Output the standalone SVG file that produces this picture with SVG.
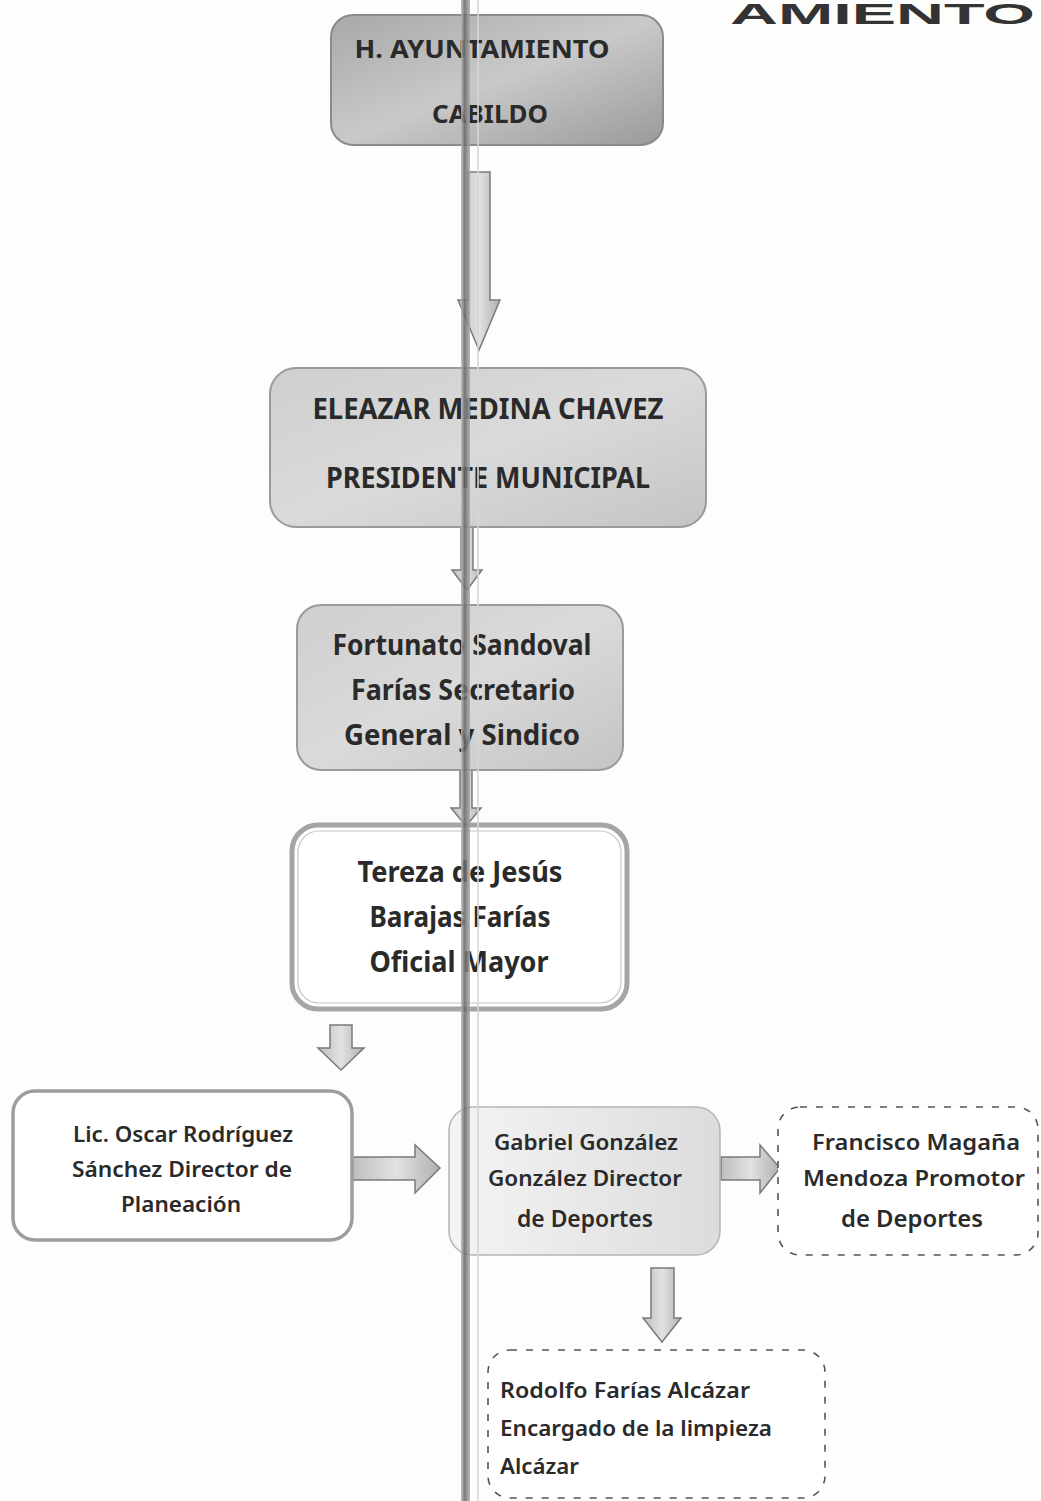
<svg xmlns="http://www.w3.org/2000/svg" width="1041" height="1501" viewBox="0 0 1041 1501">
<style>
.bold{font-family:"Noto Sans","Liberation Sans",sans-serif;font-weight:bold;fill:#2a2a2a;text-anchor:middle}
.reg{font-family:"Noto Sans","Liberation Sans",sans-serif;font-weight:600;fill:#2a2a2a;text-anchor:middle}
.regl{font-family:"Noto Sans","Liberation Sans",sans-serif;font-weight:600;fill:#2a2a2a}
.dash{fill:#fff;stroke:#555;stroke-width:1.6;stroke-dasharray:7 9}
.arrow{fill:url(#ag);stroke:#7a7a7a;stroke-width:1.5}
</style>
<defs>
<linearGradient id="g1" x1="0" y1="0" x2="1" y2="1">
<stop offset="0" stop-color="#a8a8a8"/><stop offset="0.5" stop-color="#c9c9c9"/><stop offset="1" stop-color="#9a9a9a"/>
</linearGradient>
<linearGradient id="g2" x1="0" y1="0" x2="1" y2="1">
<stop offset="0" stop-color="#cfcfcf"/><stop offset="0.5" stop-color="#dadada"/><stop offset="1" stop-color="#c4c4c4"/>
</linearGradient>
<linearGradient id="g3" x1="0" y1="0" x2="1" y2="0">
<stop offset="0" stop-color="#f4f4f4"/><stop offset="1" stop-color="#dcdcdc"/>
</linearGradient>
<linearGradient id="ag" x1="0" y1="0" x2="1" y2="0">
<stop offset="0" stop-color="#bdbdbd"/><stop offset="0.5" stop-color="#e2e2e2"/><stop offset="1" stop-color="#b0b0b0"/>
</linearGradient>
<linearGradient id="scan" x1="0" y1="0" x2="1" y2="0">
<stop offset="0" stop-color="#bbb"/><stop offset="0.4" stop-color="#666"/><stop offset="1" stop-color="#aaa"/>
</linearGradient>
</defs>
<rect width="1041" height="1501" fill="#fdfdfb"/>
<text x="730" y="24" font-family="Liberation Sans, sans-serif" font-weight="bold" font-size="30" fill="#333" textLength="305" lengthAdjust="spacingAndGlyphs">AMIENTO</text>

<g id="connectors">
<path class="arrow" d="M468,172 H490 V300 H500 L479,350 L458,300 H468 Z"/>
<path class="arrow" d="M461,527 H473 V570 H482 L467,590 L452,570 H461 Z"/>
<path class="arrow" d="M460,770 H472 V808 H481 L466,826 L451,808 H460 Z"/>
<path class="arrow" d="M330,1025 H352 V1048 H364 L341,1070 L318,1048 H330 Z"/>
<path class="arrow" d="M352,1157 H415 V1145 L440,1168 L415,1193 V1180 H352 Z"/>
<path class="arrow" d="M721,1157 H760 V1145 L780,1168 L760,1193 V1180 H721 Z"/>
<path class="arrow" d="M651,1268 H674 V1318 H681 L662,1342 L643,1318 H651 Z"/>
</g>

<g id="n1">
<rect x="331" y="15" width="332" height="130" rx="22" fill="url(#g1)" stroke="#8a8a8a" stroke-width="2"/>
<text class="bold" x="482" y="58" font-size="25" textLength="255" lengthAdjust="spacingAndGlyphs">H. AYUNTAMIENTO</text>
<text class="bold" x="490" y="123" font-size="25" textLength="116" lengthAdjust="spacingAndGlyphs">CABILDO</text>
</g>

<g id="n2">
<rect x="270" y="368" width="436" height="159" rx="26" fill="url(#g2)" stroke="#9a9a9a" stroke-width="2"/>
<text class="bold" x="488" y="419" font-size="28" textLength="351" lengthAdjust="spacingAndGlyphs">ELEAZAR MEDINA CHAVEZ</text>
<text class="bold" x="488" y="488" font-size="28" textLength="324" lengthAdjust="spacingAndGlyphs">PRESIDENTE MUNICIPAL</text>
</g>

<g id="n3">
<rect x="297" y="605" width="326" height="165" rx="24" fill="url(#g2)" stroke="#9a9a9a" stroke-width="2"/>
<text class="bold" x="462" y="655" font-size="28" textLength="259" lengthAdjust="spacingAndGlyphs">Fortunato Sandoval</text>
<text class="bold" x="463" y="700" font-size="28" textLength="224" lengthAdjust="spacingAndGlyphs">Farías Secretario</text>
<text class="bold" x="462" y="745" font-size="28" textLength="236" lengthAdjust="spacingAndGlyphs">General y Sindico</text>
</g>

<g id="n4">
<rect x="292" y="825" width="335" height="184" rx="26" fill="#fff" stroke="#a5a5a5" stroke-width="5"/>
<rect x="298" y="831" width="323" height="172" rx="21" fill="none" stroke="#c4c4c4" stroke-width="1.2"/>
<text class="bold" x="460" y="882" font-size="28" textLength="205" lengthAdjust="spacingAndGlyphs">Tereza de Jesús</text>
<text class="bold" x="460" y="927" font-size="28" textLength="181" lengthAdjust="spacingAndGlyphs">Barajas Farías</text>
<text class="bold" x="459" y="972" font-size="28" textLength="179" lengthAdjust="spacingAndGlyphs">Oficial Mayor</text>
</g>

<g id="n5">
<rect x="13" y="1091" width="339" height="149" rx="22" fill="#fff" stroke="#9d9d9d" stroke-width="3.5"/>
<text class="reg" x="183" y="1142" font-size="21" textLength="220" lengthAdjust="spacingAndGlyphs">Lic. Oscar Rodríguez</text>
<text class="reg" x="182" y="1177" font-size="21" textLength="220" lengthAdjust="spacingAndGlyphs">Sánchez Director de</text>
<text class="reg" x="181" y="1212" font-size="21" textLength="120" lengthAdjust="spacingAndGlyphs">Planeación</text>
</g>

<g id="n6">
<rect x="449" y="1107" width="271" height="148" rx="24" fill="url(#g3)" stroke="#b5b5b5" stroke-width="1.5"/>
<text class="reg" x="586" y="1150" font-size="21" textLength="184" lengthAdjust="spacingAndGlyphs">Gabriel González</text>
<text class="reg" x="585" y="1186" font-size="21" textLength="194" lengthAdjust="spacingAndGlyphs">González Director</text>
<text class="reg" x="585" y="1227" font-size="24" textLength="136" lengthAdjust="spacingAndGlyphs">de Deportes</text>
</g>

<g id="n7">
<rect x="778" y="1107" width="260" height="148" rx="22" class="dash"/>
<text class="reg" x="916" y="1150" font-size="21" textLength="208" lengthAdjust="spacingAndGlyphs">Francisco Magaña</text>
<text class="reg" x="914" y="1186" font-size="21" textLength="222" lengthAdjust="spacingAndGlyphs">Mendoza Promotor</text>
<text class="reg" x="912" y="1227" font-size="24" textLength="142" lengthAdjust="spacingAndGlyphs">de Deportes</text>
</g>

<g id="n8">
<rect x="488" y="1350" width="337" height="148" rx="22" class="dash"/>
<text class="regl" x="500" y="1398" font-size="21" textLength="250" lengthAdjust="spacingAndGlyphs">Rodolfo Farías  Alcázar</text>
<text class="regl" x="500" y="1436" font-size="21" textLength="272" lengthAdjust="spacingAndGlyphs">Encargado de la limpieza</text>
<text class="regl" x="500" y="1474" font-size="21" textLength="79" lengthAdjust="spacingAndGlyphs">Alcázar</text>
</g>

<rect x="461" y="0" width="9" height="1501" fill="url(#scan)" opacity="0.85"/>
<rect x="477" y="0" width="2" height="1501" fill="#d6d6d6" opacity="0.8"/>
</svg>
